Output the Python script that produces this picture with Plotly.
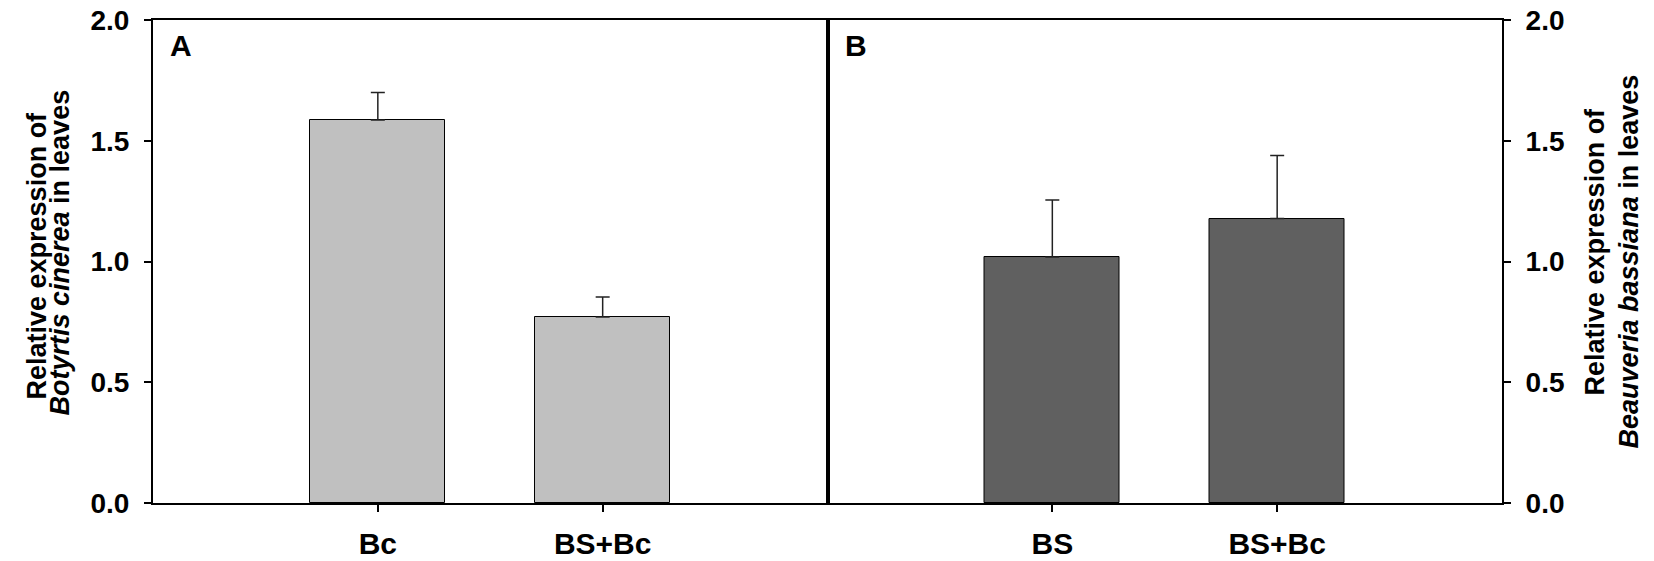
import plotly.graph_objects as go
from plotly.subplots import make_subplots

# Panel A - Botrytis cinerea
groups_a = ["Bc", "BS+Bc"]
expr_a = [1.586, 0.770]
err_a = [0.114, 0.083]

# Panel B - Beauveria bassiana
groups_b = ["BS", "BS+Bc"]
expr_b = [1.019, 1.178]
err_b = [0.236, 0.261]

FONT = "Liberation Sans, Arial, sans-serif"


def plot_expression():
    fig = make_subplots(rows=1, cols=2, horizontal_spacing=0)

    fig.add_trace(
        go.Bar(x=groups_a, y=expr_a, width=0.6,
               marker=dict(color="#c0c0c0", line=dict(color="black", width=1)),
               error_y=dict(type="data", symmetric=False, array=err_a, arrayminus=[0, 0],
                            color="#222222", thickness=1.5, width=7),
               showlegend=False),
        row=1, col=1
    )
    fig.add_trace(
        go.Bar(x=groups_b, y=expr_b, width=0.6,
               marker=dict(color="#606060", line=dict(color="black", width=1)),
               error_y=dict(type="data", symmetric=False, array=err_b, arrayminus=[0, 0],
                            color="#222222", thickness=1.5, width=7),
               showlegend=False),
        row=1, col=2
    )

    xfont = dict(family=FONT, size=30, color="black", weight="bold")
    yfont = dict(family=FONT, size=28, color="black", weight="bold")
    xcommon = dict(range=[-1, 2], showline=True, linecolor="black", linewidth=2, mirror=True,
                   ticks="outside", ticklen=7, tickwidth=1.5, tickcolor="black",
                   tickfont=xfont, ticklabelstandoff=6, automargin=False,
                   showgrid=False, zeroline=False)
    ycommon = dict(range=[0, 2.0], dtick=0.5, tickformat=".1f", showline=True, linecolor="black",
                   linewidth=2, mirror=True, ticks="outside", ticklen=7, tickwidth=1.5,
                   tickcolor="black", tickfont=yfont, ticklabelstandoff=9,
                   ticklabeloverflow="allow", automargin=False,
                   showgrid=False, zeroline=False)
    fig.update_xaxes(**xcommon)
    fig.update_yaxes(**ycommon)
    fig.update_yaxes(side="right", row=1, col=2)

    # panel letters
    for xp, label in [(0.0, "A"), (0.5, "B")]:
        fig.add_annotation(x=xp, y=1, xref="paper", yref="paper", xanchor="left", yanchor="top",
                           xshift=15, yshift=-7, text=label, showarrow=False,
                           font=dict(family=FONT, size=30, color="black", weight="bold"))

    # y axis titles, one annotation per line
    tfont = dict(family=FONT, size=27, color="black", weight="bold")
    titles = [
        (0.0, 36 - 153, "Relative expression of", 6),
        (0.0, 59 - 153, "<i>Botyrtis cinerea</i> in leaves", 9),
        (1.0, 1594 - 1502, "Relative expression of", 10),
        (1.0, 1628 - 1502, "<i>Beauveria bassiana</i> in leaves", 0),
    ]
    for xp, shift, text, ysh in titles:
        fig.add_annotation(x=xp, y=0.5, xref="paper", yref="paper", xanchor="center",
                           yanchor="middle", xshift=shift, yshift=ysh, text=text,
                           textangle=-90, showarrow=False, font=tfont)

    # the page body has an 8px margin, so the figure is drawn 8px in from the corner
    fig.update_layout(
        width=1646, height=553,
        margin=dict(l=145, r=152, t=12, b=58),
        plot_bgcolor="white", paper_bgcolor="white",
        bargap=0
    )
    fig.write_html("out.html")


if __name__ == "__main__":
    plot_expression()
